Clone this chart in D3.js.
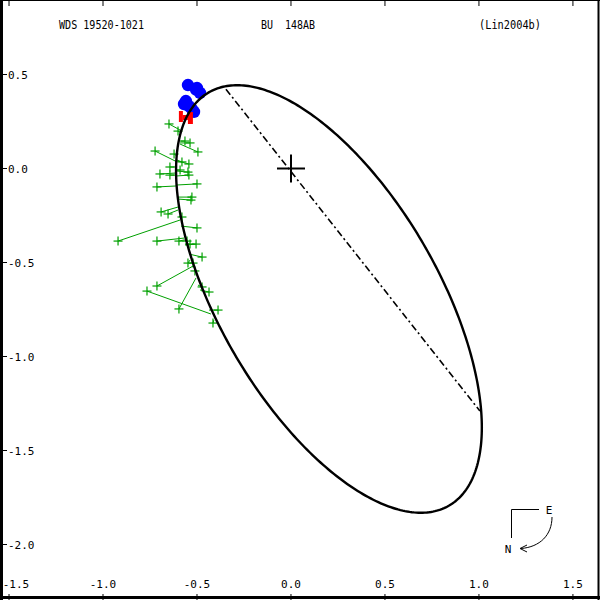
<!DOCTYPE html>
<html><head><meta charset="utf-8">
<script src="https://cdn.jsdelivr.net/npm/d3@7"></script>
<style>
body{margin:0;background:#fff}
text{font-family:"DejaVu Sans Mono","Liberation Mono",monospace;white-space:pre}
</style></head>
<body><svg id="c" width="600" height="600"></svg>
<script>
// ---- data (arcsec) ----
const titleLeft = "WDS 19520-1021";
const titleMid = "BU  148AB";
const titleRight = "(Lin2004b)";
const xTicks = [-1.5, -1.0, -0.5, 0.0, 0.5, 1.0, 1.5];
const yTicks = [0.5, 0.0, -0.5, -1.0, -1.5, -2.0];
// apparent orbit ellipse: center, semi-axes, position angle of major axis (deg)
const orbitCenter = [0.202, -0.694];
const orbitAxes = [1.2713, 0.5815];
const orbitAngle = -59.8;
// line of nodes end points
const nodeLine = [[-0.346, 0.422], [1.005, -1.290]];
// micrometer observations (green) and predicted positions
const obsX = [-0.649,-0.601,-0.564,-0.537,-0.495,-0.723,-0.622,-0.580,-0.543,-0.644,-0.590,-0.548,-0.697,-0.644,-0.543,-0.713,-0.500,-0.527,-0.532,-0.691,-0.654,-0.580,-0.500,-0.920,-0.713,-0.596,-0.553,-0.537,-0.505,-0.473,-0.548,-0.521,-0.511,-0.713,-0.766,-0.473,-0.436,-0.596,-0.388,-0.415];
const obsY = [0.237,0.199,0.146,0.136,0.088,0.093,0.077,0.035,0.024,0.008,-0.008,-0.019,-0.029,-0.035,-0.035,-0.098,-0.082,-0.152,-0.168,-0.231,-0.242,-0.258,-0.316,-0.386,-0.386,-0.386,-0.386,-0.402,-0.402,-0.471,-0.503,-0.503,-0.545,-0.625,-0.652,-0.630,-0.657,-0.747,-0.753,-0.822];
const predX = [-0.580,-0.585,-0.590,-0.590,-0.590,-0.606,-0.606,-0.606,-0.606,-0.606,-0.612,-0.612,-0.612,-0.612,-0.612,-0.612,-0.612,-0.606,-0.606,-0.601,-0.601,-0.596,-0.585,-0.590,-0.569,-0.569,-0.569,-0.564,-0.564,-0.543,-0.537,-0.532,-0.516,-0.521,-0.426,-0.495,-0.484,-0.505,-0.436,-0.410];
const predY = [0.199,0.189,0.146,0.136,0.130,0.035,0.066,0.045,0.040,0.008,-0.008,-0.013,-0.024,-0.035,-0.040,-0.093,-0.088,-0.152,-0.162,-0.205,-0.221,-0.253,-0.306,-0.274,-0.370,-0.380,-0.380,-0.402,-0.407,-0.455,-0.487,-0.497,-0.540,-0.519,-0.774,-0.620,-0.646,-0.582,-0.753,-0.806];
// interferometric observations (blue)
const specX = [-0.548,-0.500,-0.484,-0.559,-0.543,-0.516,-0.527,-0.569,-0.505];
const specY = [0.444,0.428,0.402,0.359,0.332,0.301,0.316,0.343,0.420];
// Hipparcos (red)
const hipX = [-0.559];
const hipY = [0.274];

// ---- drawing ----
const W = 600, H = 600;
const svg = d3.select("#c");
const x = d3.scaleLinear().domain([-1.548, 1.644]).range([0, W]);
const y = d3.scaleLinear().domain([0.8963, -2.2952]).range([0, H]);

const phi = orbitAngle * Math.PI / 180;
const ts = d3.range(0, 361, 1).map(d => d * Math.PI / 180);
const ell = ts.map(t => [
  orbitCenter[0] + orbitAxes[0]*Math.cos(t)*Math.cos(phi) - orbitAxes[1]*Math.sin(t)*Math.sin(phi),
  orbitCenter[1] + orbitAxes[0]*Math.cos(t)*Math.sin(phi) + orbitAxes[1]*Math.sin(t)*Math.cos(phi)
]);
const line = d3.line().x(d => x(d[0])).y(d => y(d[1]));

// line of nodes
svg.append("path").attr("d", line(nodeLine)).attr("fill", "none").attr("stroke", "#000")
  .attr("stroke-width", 1.6).attr("stroke-dasharray", "7,3,2,3");

// primary star cross
const cs = 14;
svg.append("line").attr("x1", x(0)-cs).attr("x2", x(0)+cs).attr("y1", y(0)).attr("y2", y(0)).attr("stroke", "#000").attr("stroke-width", 2);
svg.append("line").attr("x1", x(0)).attr("x2", x(0)).attr("y1", y(0)-cs).attr("y2", y(0)+cs).attr("stroke", "#000").attr("stroke-width", 2);

// green O-C lines and pluses
const green = "#00a000";
const gObs = obsX.map((v, i) => ({ox: v, oy: obsY[i], px: predX[i], py: predY[i]}));
svg.append("g").selectAll("line").data(gObs).join("line")
  .attr("x1", d => x(d.ox)).attr("y1", d => y(d.oy)).attr("x2", d => x(d.px)).attr("y2", d => y(d.py))
  .attr("stroke", green).attr("stroke-width", 1);
const ps = 4.5;
const gp = svg.append("g").attr("stroke", green).attr("stroke-width", 1.2);
gObs.forEach(d => {
  gp.append("line").attr("x1", x(d.ox)-ps).attr("x2", x(d.ox)+ps).attr("y1", y(d.oy)).attr("y2", y(d.oy));
  gp.append("line").attr("x1", x(d.ox)).attr("x2", x(d.ox)).attr("y1", y(d.oy)-ps).attr("y2", y(d.oy)+ps);
});

// blue filled circles
svg.append("g").selectAll("circle").data(specX.map((v, i) => [v, specY[i]])).join("circle")
  .attr("cx", d => x(d[0])).attr("cy", d => y(d[1])).attr("r", 6.2).attr("fill", "#0000ff");

// red H marker
hipX.forEach((v, i) => {
  const cx = x(v), cy = y(hipY[i]);
  const g = svg.append("g").attr("fill", "#ff0000");
  g.append("rect").attr("x", cx-7).attr("y", cy-6).attr("width", 4).attr("height", 11);
  g.append("rect").attr("x", cx+2).attr("y", cy-5).attr("width", 5).attr("height", 12);
  g.append("rect").attr("x", cx-3).attr("y", cy-2).attr("width", 5).attr("height", 5);
});

// orbit
svg.append("path").attr("d", line(ell)).attr("fill", "none").attr("stroke", "#000").attr("stroke-width", 2.4);

// ticks & labels
const tickG = svg.append("g").attr("stroke", "#000").attr("stroke-width", 1);
xTicks.forEach(t => {
  tickG.append("line").attr("x1", x(t)).attr("x2", x(t)).attr("y1", 0).attr("y2", 6);
  tickG.append("line").attr("x1", x(t)).attr("x2", x(t)).attr("y1", H).attr("y2", H-6);
});
yTicks.forEach(t => {
  tickG.append("line").attr("x1", 0).attr("x2", 7).attr("y1", y(t)).attr("y2", y(t));
});
const fmt = d3.format(".1f");
svg.append("g").selectAll("text").data(xTicks).join("text")
  .attr("x", d => Math.max(x(d), 16)).attr("y", 588).attr("text-anchor", "middle")
  .attr("font-size", 11).text(d => fmt(d).replace("−", "-"));
svg.append("g").selectAll("text").data(yTicks).join("text")
  .attr("x", 8).attr("y", d => y(d) + 4).attr("text-anchor", "start")
  .attr("font-size", 11).text(d => fmt(d).replace("−", "-"));

// titles
svg.append("text").attr("x", 59).attr("y", 29).attr("font-size", 11.5).attr("textLength", 85).attr("lengthAdjust", "spacingAndGlyphs").text(titleLeft);
svg.append("text").attr("x", 261).attr("y", 29).attr("font-size", 11.5).attr("textLength", 54).attr("lengthAdjust", "spacingAndGlyphs").text(titleMid);
svg.append("text").attr("x", 479).attr("y", 29).attr("font-size", 11.5).attr("textLength", 62).attr("lengthAdjust", "spacingAndGlyphs").text(titleRight);

// compass
const cg = svg.append("g").attr("stroke", "#000").attr("stroke-width", 1).attr("fill", "none");
cg.append("path").attr("d", "M539,509.5 H511.5 V538");
cg.append("path").attr("d", "M552,517 C552,535 540,547 521,548.5");
cg.append("path").attr("d", "M527,545 L520,548.5 L527,552");
svg.append("text").attr("x", 549).attr("y", 514).attr("font-size", 11).attr("text-anchor", "middle").text("E");
svg.append("text").attr("x", 508).attr("y", 553).attr("font-size", 11).attr("text-anchor", "middle").text("N");

// frame
svg.append("line").attr("x1", 1.5).attr("x2", 1.5).attr("y1", 0).attr("y2", H).attr("stroke", "#000").attr("stroke-width", 3);
svg.append("line").attr("x1", 0).attr("x2", W).attr("y1", 597.5).attr("y2", 597.5).attr("stroke", "#000").attr("stroke-width", 3);
svg.append("line").attr("x1", 598.5).attr("x2", 598.5).attr("y1", 0).attr("y2", H).attr("stroke", "#000").attr("stroke-width", 2);
svg.append("line").attr("x1", 0).attr("x2", W).attr("y1", 0.5).attr("y2", 0.5).attr("stroke", "#000").attr("stroke-width", 1);
</script></body></html>
